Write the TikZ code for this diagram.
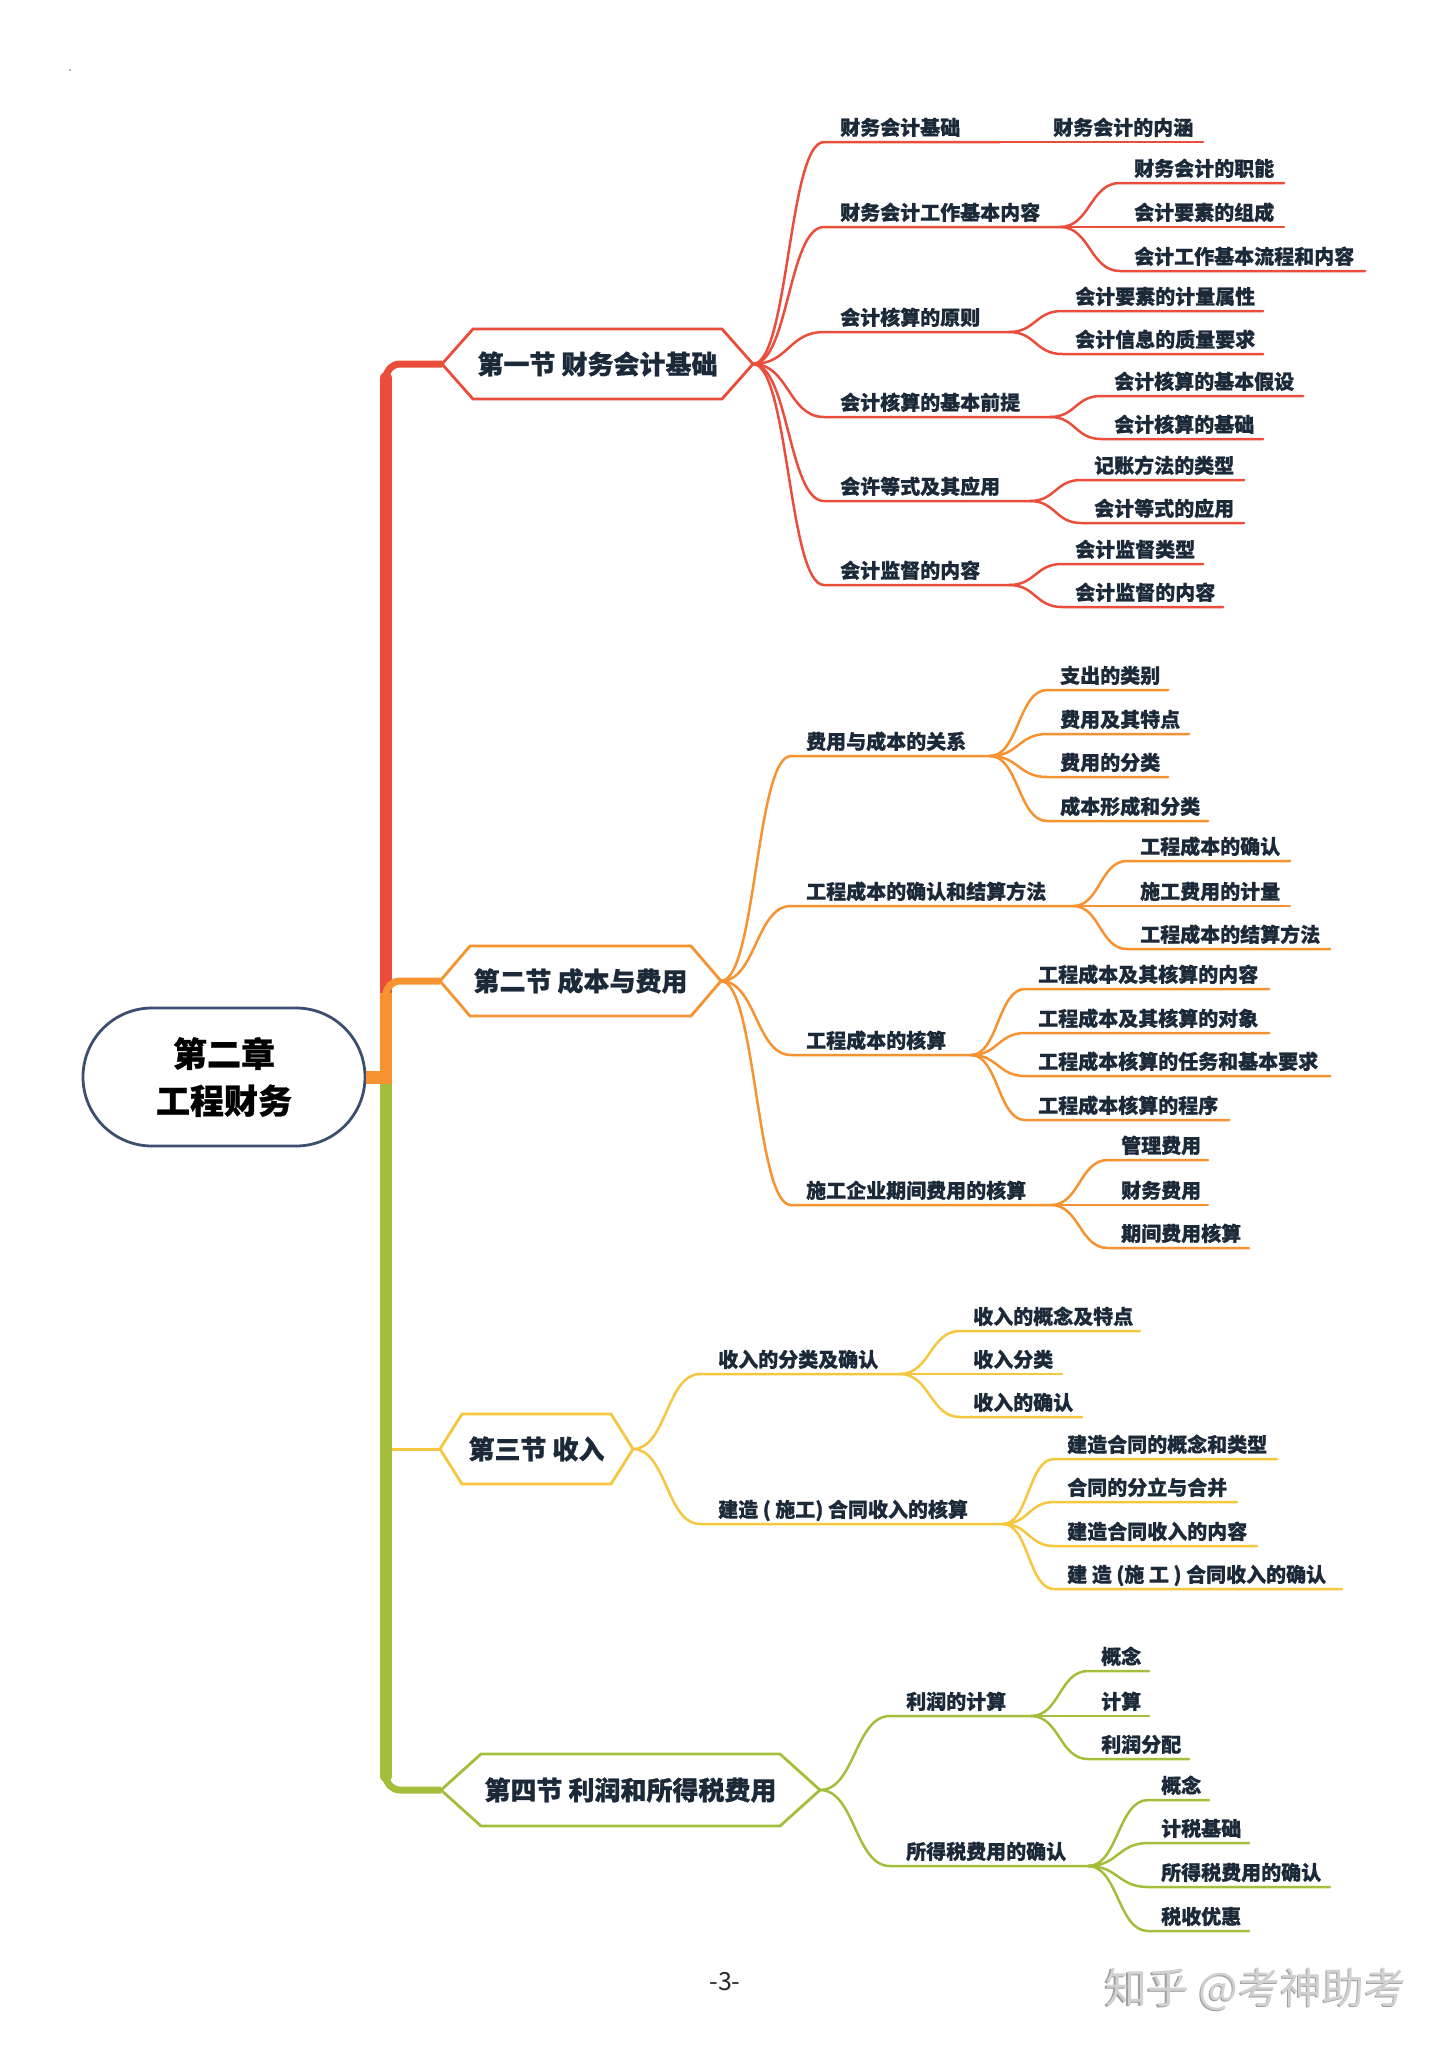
\documentclass[tikz,border=0pt]{standalone}
\usepackage{fontspec}
\setmainfont{Noto Sans CJK SC}[BoldFeatures={FakeBold=0.8}]
\usetikzlibrary{calc}
\definecolor{cRed}{HTML}{EA4E3B}
\definecolor{cOrange}{HTML}{F6922F}
\definecolor{cYellow}{HTML}{F5C63E}
\definecolor{cGreen}{HTML}{A2BE3A}
\definecolor{cRoot}{HTML}{3D4F6F}
\definecolor{txt}{HTML}{1B2939}
\tikzset{
  lbl/.style={anchor=base west, inner sep=0, text=txt, font=\fontsize{20}{24}\selectfont\bfseries},
  sec/.style={inner sep=0, text=txt, font=\fontsize{26}{30}\selectfont\bfseries},
  br/.style={line width=2.5, line cap=round},
  hexline/.style={line width=2.8, line join=miter, fill=white},
  rootbox/.style={draw=cRoot, line width=2.8, fill=white, rounded corners=69,
    minimum width=282, minimum height=138, inner sep=0, align=center,
    font=\fontsize{34}{47}\selectfont\bfseries, text=black},
  trunkthick/.style={line width=12},
  trunkthin/.style={line width=7, rounded corners=14},
}
% name, parent, curve-end x, underline y, text x, underline end x, text
\newcommand{\mmb}[7]{%
  \coordinate (#1s) at (#3,#4);
  \coordinate (#1e) at (#6,#4);
  \node[lbl] (#1) at (#5,#4-7) {#7};
  \path (#2) -- (#1s) coordinate[pos=.5] (#1m);
  \draw[br] (#2) .. controls (#1m |- #2) and (#1m |- #1s) .. (#1s) -- (#1e);
}
% name, color, x left tip, inset, x right tip, y, half height, text
\newcommand{\hexa}[8]{%
  \filldraw[draw=#2, hexline] (#3,#6) -- (#3+#4,#6-#7) -- (#5-#4,#6-#7) -- (#5,#6)
    -- (#5-#4,#6+#7) -- (#3+#4,#6+#7) -- cycle;
  \node[sec] (#1) at ({(#3+#5)/2},#6) {#8};
}
\begin{document}
\begin{tikzpicture}[x=1pt,y=-1pt]
\useasboundingbox (0,0) rectangle (1450,2048);
\fill[white] (0,0) rectangle (1450,2048);
\fill[gray!60] (70,70) circle (1.3);

% root
\node[rootbox] (root) at (224,1077) {第二章\\工程财务};

% section tips
\coordinate (s1w) at (442,364);  \coordinate (s1e) at (753,364);
\coordinate (s2w) at (440,981);  \coordinate (s2e) at (721,981);
\coordinate (s3w) at (440,1449); \coordinate (s3e) at (633,1449);
\coordinate (s4w) at (441,1790); \coordinate (s4e) at (820,1790);
\coordinate (trk) at (386,1077);

% trunk
\draw[cYellow, line width=3] (trk |- s3w) -- (s3w);
\draw[cRed, trunkthick, line cap=round] (trk) -- ($(trk |- s1w)+(0,14)$);
\draw[cRed, trunkthin] ($(trk |- s1w)+(0,40)$) -- (trk |- s1w) -- (s1w);
\draw[cGreen, trunkthick, line cap=round] (trk) -- ($(trk |- s4w)+(0,-14)$);
\draw[cGreen, trunkthin] ($(trk |- s4w)+(0,-40)$) -- (trk |- s4w) -- (s4w);
\draw[cOrange, trunkthick] ($(trk)+(0,6)$) -- ($(trk |- s2w)+(0,12)$);
\draw[cOrange, trunkthin] ($(trk |- s2w)+(0,40)$) -- (trk |- s2w) -- (s2w);
\draw[cOrange, line width=13] (root.east) -- ($(trk)+(6,0)$);

% sections
\hexa{s1}{cRed}{442}{31}{753}{364}{35}{第一节 财务会计基础}
\hexa{s2}{cOrange}{440}{30}{721}{981}{35}{第二节 成本与费用}
\hexa{s3}{cYellow}{440}{22}{633}{1449}{35}{第三节 收入}
\hexa{s4}{cGreen}{441}{40}{820}{1790}{36}{第四节 利润和所得税费用}

% section 1
\begin{scope}[color=cRed]
\mmb{a1}{s1e}{824}{142}{840}{1000}{财务会计基础}
\mmb{a1a}{a1e}{1040}{142}{1053}{1203}{财务会计的内涵}
\mmb{a2}{s1e}{824}{227}{840}{1060}{财务会计工作基本内容}
\mmb{a2a}{a2e}{1120}{183}{1134}{1284}{财务会计的职能}
\mmb{a2b}{a2e}{1120}{227}{1134}{1284}{会计要素的组成}
\mmb{a2c}{a2e}{1120}{271}{1134}{1365}{会计工作基本流程和内容}
\mmb{a3}{s1e}{824}{332}{840}{1009}{会计核算的原则}
\mmb{a3a}{a3e}{1062}{311}{1075}{1263}{会计要素的计量属性}
\mmb{a3b}{a3e}{1062}{354}{1075}{1263}{会计信息的质量要求}
\mmb{a4}{s1e}{824}{417}{840}{1050}{会计核算的基本前提}
\mmb{a4a}{a4e}{1101}{396}{1114}{1303}{会计核算的基本假设}
\mmb{a4b}{a4e}{1101}{439}{1114}{1263}{会计核算的基础}
\mmb{a5}{s1e}{824}{501}{840}{1030}{会许等式及其应用}
\mmb{a5a}{a5e}{1081}{480}{1094}{1244}{记账方法的类型}
\mmb{a5b}{a5e}{1081}{523}{1094}{1244}{会计等式的应用}
\mmb{a6}{s1e}{824}{585}{840}{1009}{会计监督的内容}
\mmb{a6a}{a6e}{1062}{564}{1075}{1203}{会计监督类型}
\mmb{a6b}{a6e}{1062}{607}{1075}{1223}{会计监督的内容}
\end{scope}

% section 2
\begin{scope}[color=cOrange]
\mmb{b1}{s2e}{791}{756}{806}{990}{费用与成本的关系}
\mmb{b1a}{b1e}{1047}{690}{1060}{1168}{支出的类别}
\mmb{b1b}{b1e}{1047}{734}{1060}{1189}{费用及其特点}
\mmb{b1c}{b1e}{1047}{777}{1060}{1168}{费用的分类}
\mmb{b1d}{b1e}{1047}{821}{1060}{1208}{成本形成和分类}
\mmb{b2}{s2e}{791}{906}{806}{1073}{工程成本的确认和结算方法}
\mmb{b2a}{b2e}{1127}{861}{1140}{1290}{工程成本的确认}
\mmb{b2b}{b2e}{1127}{906}{1140}{1290}{施工费用的计量}
\mmb{b2c}{b2e}{1127}{949}{1140}{1330}{工程成本的结算方法}
\mmb{b3}{s2e}{791}{1055}{806}{971}{工程成本的核算}
\mmb{b3a}{b3e}{1025}{989}{1038}{1269}{工程成本及其核算的内容}
\mmb{b3b}{b3e}{1025}{1033}{1038}{1269}{工程成本及其核算的对象}
\mmb{b3c}{b3e}{1025}{1076}{1038}{1330}{工程成本核算的任务和基本要求}
\mmb{b3d}{b3e}{1025}{1120}{1038}{1229}{工程成本核算的程序}
\mmb{b4}{s2e}{791}{1205}{806}{1051}{施工企业期间费用的核算}
\mmb{b4a}{b4e}{1108}{1160}{1121}{1208}{管理费用}
\mmb{b4b}{b4e}{1108}{1205}{1121}{1208}{财务费用}
\mmb{b4c}{b4e}{1108}{1248}{1121}{1249}{期间费用核算}
\end{scope}

% section 3
\begin{scope}[color=cYellow]
\mmb{c1}{s3e}{700}{1374}{718}{900}{收入的分类及确认}
\mmb{c1a}{c1e}{960}{1331}{973}{1140}{收入的概念及特点}
\mmb{c1b}{c1e}{960}{1374}{973}{1062}{收入分类}
\mmb{c1c}{c1e}{960}{1417}{973}{1082}{收入的确认}
\mmb{c2}{s3e}{700}{1524}{718}{1003}{建造 ( 施工) 合同收入的核算}
\mmb{c2a}{c2e}{1054}{1459}{1067}{1277}{建造合同的概念和类型}
\mmb{c2b}{c2e}{1054}{1502}{1067}{1237}{合同的分立与合并}
\mmb{c2c}{c2e}{1054}{1546}{1067}{1257}{建造合同收入的内容}
\mmb{c2d}{c2e}{1054}{1589}{1067}{1342}{建 造 (施 工 ) 合同收入的确认}
\end{scope}

% section 4
\begin{scope}[color=cGreen]
\mmb{d1}{s4e}{890}{1716}{906}{1031}{利润的计算}
\mmb{d1a}{d1e}{1088}{1671}{1101}{1149}{概念}
\mmb{d1b}{d1e}{1088}{1716}{1101}{1149}{计算}
\mmb{d1c}{d1e}{1088}{1759}{1101}{1189}{利润分配}
\mmb{d2}{s4e}{890}{1866}{906}{1088}{所得税费用的确认}
\mmb{d2a}{d2e}{1148}{1800}{1161}{1209}{概念}
\mmb{d2b}{d2e}{1148}{1843}{1161}{1249}{计税基础}
\mmb{d2c}{d2e}{1148}{1887}{1161}{1330}{所得税费用的确认}
\mmb{d2d}{d2e}{1148}{1931}{1161}{1249}{税收优惠}
\end{scope}

% page number and watermark
\node[font=\fontsize{25}{28}\selectfont, text=black!85] (pg) at (725,1982) {-3-};
\node[font=\fontsize{42}{46}\selectfont, text=black!38] (wms) at (1254.5,1990.5) {知乎 @考神助考};
\node[font=\fontsize{42}{46}\selectfont, text=black!18] (wm) at (1256,1989) {知乎 @考神助考};
\end{tikzpicture}
\end{document}
